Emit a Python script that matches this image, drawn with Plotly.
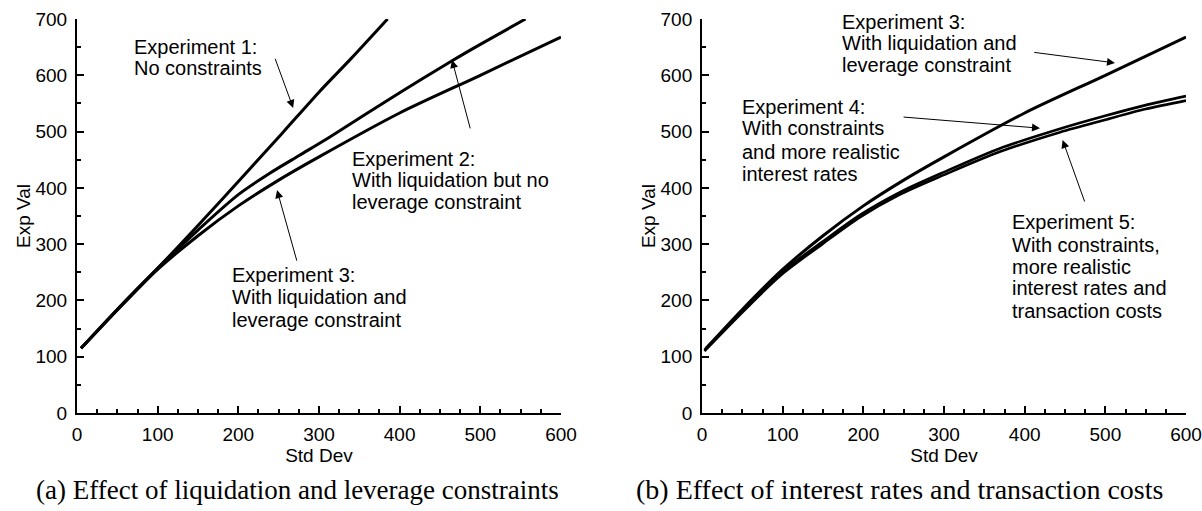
import plotly.graph_objects as go

# ---- data ----
exp1_x = [5, 50, 100, 150, 215, 255, 300, 340, 385]
exp1_y = [115, 183, 257, 333, 435, 498, 570, 630, 700]

exp2_x = [5, 50, 100, 150, 200, 239, 276, 313, 400, 464, 500, 556]
exp2_y = [115, 184, 257, 325, 388, 426, 458, 490, 569, 625, 655, 700]

exp3_x = [5, 50, 100, 150, 200, 248, 300, 400, 500, 600]
exp3_y = [115, 184, 255, 315, 368, 412, 455, 533, 600, 668]

exp4_x = [3, 50, 97, 150, 196, 245, 300, 369, 444, 500, 550, 600]
exp4_y = [112, 181, 248, 305, 352, 392, 428, 470, 505, 528, 547, 563]

exp5_x = [3, 50, 97, 150, 196, 245, 300, 369, 444, 500, 550, 600]
exp5_y = [110, 179, 244, 301, 348, 388, 423, 464, 499, 521, 540, 555]

x_ticks = [0, 100, 200, 300, 400, 500, 600]
y_ticks = [0, 100, 200, 300, 400, 500, 600, 700]

captions = ["(a) Effect of liquidation and leverage constraints",
            "(b) Effect of interest rates and transaction costs"]

FONT = "Liberation Sans"
FS = 19
FS_ANN = 20
LW = 3

fig = go.Figure()
def add(x, y, xa, ya, w):
    fig.add_trace(go.Scatter(x=x, y=y, mode="lines",
                             line=dict(color="black", width=w, shape="spline", smoothing=0.8),
                             xaxis=xa, yaxis=ya))

add(exp1_x, exp1_y, "x", "y", LW)
add(exp2_x, exp2_y, "x", "y", LW)
add(exp3_x, exp3_y, "x", "y", LW)
add(exp3_x, exp3_y, "x2", "y2", LW)
add(exp4_x, exp4_y, "x2", "y2", 2.6)
add(exp5_x, exp5_y, "x2", "y2", 2.6)

def xaxis(domain, anchor):
    return dict(domain=domain, anchor=anchor, range=[0, 600], tickvals=x_ticks,
                automargin=False, ticklabeloverflow="allow",
                showline=True, linecolor="black", linewidth=2, ticks="inside",
                ticklen=7, tickwidth=2, tickcolor="black", showgrid=False, zeroline=False,
                minor=dict(dtick=25, ticks="inside", ticklen=4, tickwidth=1.5, tickcolor="black", showgrid=False),
                tickfont=dict(family=FONT, size=FS, color="black"), ticklabelstandoff=3,
                title=dict(text="Std Dev", font=dict(family=FONT, size=FS, color="black"), standoff=2))

def yaxis(domain, anchor):
    return dict(domain=domain, anchor=anchor, range=[0, 700], tickvals=y_ticks,
                automargin=False, ticklabeloverflow="allow",
                showline=True, linecolor="black", linewidth=2, ticks="inside",
                ticklen=7, tickwidth=2, tickcolor="black", showgrid=False, zeroline=False,
                minor=dict(dtick=50, ticks="inside", ticklen=4, tickwidth=1.5, tickcolor="black", showgrid=False),
                tickfont=dict(family=FONT, size=FS, color="black"), ticklabelstandoff=4,
                title=dict(text="Exp Val", font=dict(family=FONT, size=FS, color="black"), standoff=0))

fig.update_layout(
    width=1202, height=511, showlegend=False,
    paper_bgcolor="white", plot_bgcolor="white",
    margin=dict(l=77, r=16, t=19, b=98, autoexpand=False),
    xaxis=xaxis([0, 0.4364], "y"), yaxis=yaxis([0, 1], "x"),
    xaxis2=xaxis([0.5636, 1], "y2"), yaxis2=yaxis([0, 1], "x2"),
)

texts = [
    ("x", "y", 68, [650, 613], ["Experiment 1:", "No constraints"]),
    ("x", "y", 338, [451, 414, 375], ["Experiment 2:", "With liquidation but no", "leverage constraint"]),
    ("x", "y", 190, [245, 206, 165], ["Experiment 3:", "With liquidation and", "leverage constraint"]),
    ("x2", "y2", 171, [695, 657, 618], ["Experiment 3:", "With liquidation and", "leverage constraint"]),
    ("x2", "y2", 47, [544, 506, 464, 425], ["Experiment 4:", "With constraints", "and more realistic", "interest rates"]),
    ("x2", "y2", 382, [339, 298, 259, 222, 181], ["Experiment 5:", "With constraints,", "more realistic",
                                                  "interest rates and", "transaction costs"]),
]
for xr, yr, x, ys, lines in texts:
    for y, t in zip(ys, lines):
        fig.add_annotation(xref=xr, yref=yr, x=x, y=y, text=t, showarrow=False,
                           xanchor="left", yanchor="middle", align="left",
                           font=dict(family=FONT, size=FS_ANN, color="black"))

arrows = [
    ("x", "y", 268, 542, 245, 632),
    ("x", "y", 465, 627, 488, 503),
    ("x", "y", 248, 396, 273, 268),
    ("x2", "y2", 512, 622, 410, 641),
    ("x2", "y2", 419, 506, 248, 526),
    ("x2", "y2", 447, 485, 475, 373),
]
for xr, yr, x, y, ax, ay in arrows:
    fig.add_annotation(xref=xr, yref=yr, x=x, y=y, ax=ax, ay=ay, axref=xr, ayref=yr,
                       text="", showarrow=True, arrowhead=2, arrowsize=1.6,
                       arrowwidth=1, arrowcolor="black")

cap_sizes = [27, 28]
for i, cap in enumerate(captions):
    fig.add_annotation(xref="x domain" if i == 0 else "x2 domain", yref="paper",
                       x=0.455 if i == 0 else 0.408, y=-0.195, text=cap, showarrow=False,
                       xanchor="center", yanchor="middle",
                       font=dict(family="Liberation Serif", size=cap_sizes[i], color="black"))

# remove the default 8px page margin so the figure sits at the window's top-left corner
fig.write_html("out.html", config={"displayModeBar": False},
               post_script="document.body.style.margin='0';")
